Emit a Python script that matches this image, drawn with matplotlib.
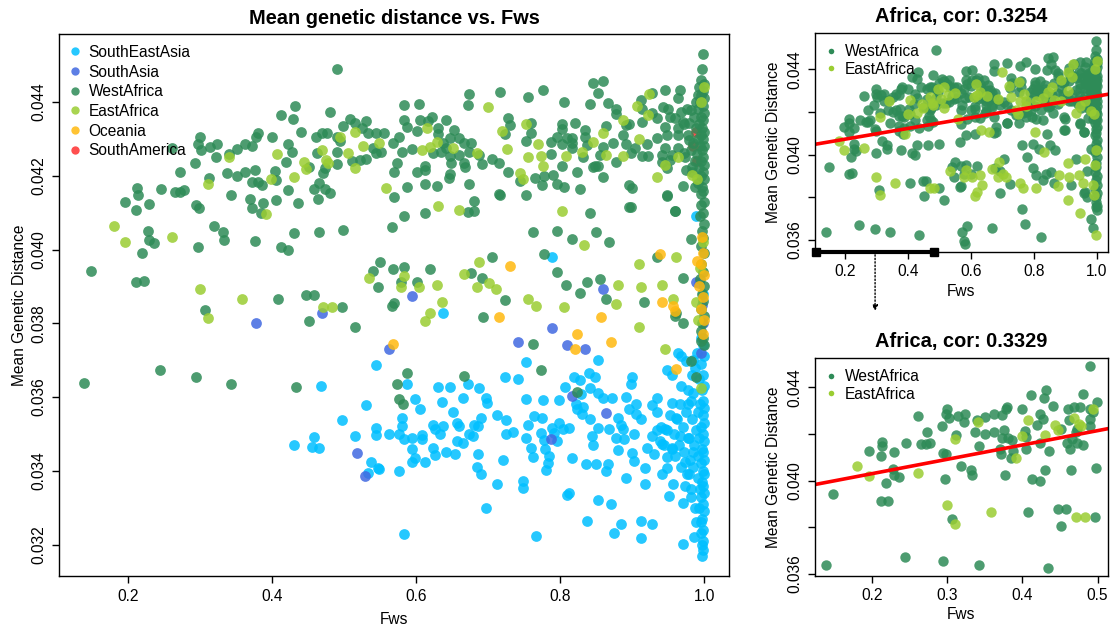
import numpy as np
import matplotlib.pyplot as plt
from matplotlib.lines import Line2D
from matplotlib.ticker import FixedLocator, FixedFormatter

plt.rcParams['font.family'] = ['Liberation Sans', 'DejaVu Sans']

# (Fws, mean genetic distance) per population
west_africa = [
    (0.490, 0.04490), (0.432, 0.04389), (0.412, 0.04365), (0.429, 0.04354), (0.481, 0.04373), (0.441, 0.04318),
    (0.300, 0.04305), (0.298, 0.04286), (0.302, 0.04270), (0.314, 0.04278), (0.324, 0.04286), (0.261, 0.04275),
    (0.293, 0.04234), (0.323, 0.04250), (0.340, 0.04258), (0.351, 0.04272), (0.362, 0.04286), (0.373, 0.04280),
    (0.378, 0.04305), (0.380, 0.04316), (0.400, 0.04305), (0.423, 0.04286), (0.428, 0.04264), (0.419, 0.04237),
    (0.461, 0.04305), (0.469, 0.04316), (0.476, 0.04316), (0.462, 0.04261), (0.490, 0.04305), (0.490, 0.04264),
    (0.499, 0.04335), (0.494, 0.04294), (0.511, 0.04240), (0.522, 0.04242), (0.531, 0.04245), (0.509, 0.04354),
    (0.516, 0.04343), (0.525, 0.04329), (0.530, 0.04348), (0.533, 0.04316), (0.545, 0.04316), (0.540, 0.04275),
    (0.545, 0.04261), (0.490, 0.04232), (0.452, 0.04223), (0.471, 0.04207), (0.473, 0.04220), (0.466, 0.04180),
    (0.459, 0.04163), (0.473, 0.04163), (0.480, 0.04153), (0.464, 0.04136), (0.376, 0.04215), (0.362, 0.04210),
    (0.351, 0.04199), (0.337, 0.04207), (0.373, 0.04183), (0.381, 0.04183), (0.386, 0.04174), (0.404, 0.04213),
    (0.405, 0.04188), (0.423, 0.04161), (0.405, 0.04134), (0.436, 0.04126), (0.388, 0.04126), (0.370, 0.04136),
    (0.372, 0.04112), (0.385, 0.04098), (0.343, 0.04147), (0.312, 0.04194), (0.273, 0.04210), (0.246, 0.04163),
    (0.266, 0.04155), (0.272, 0.04155), (0.278, 0.04161), (0.294, 0.04120), (0.299, 0.04112), (0.213, 0.04166),
    (0.214, 0.04147), (0.196, 0.04128), (0.229, 0.04123), (0.212, 0.04107), (0.319, 0.04063), (0.332, 0.04047),
    (0.333, 0.04025), (0.228, 0.04050), (0.229, 0.04025), (0.236, 0.04017), (0.219, 0.03990), (0.297, 0.04006),
    (0.377, 0.04022), (0.413, 0.04006), (0.423, 0.03998), (0.430, 0.04044), (0.465, 0.04047), (0.498, 0.04052),
    (0.149, 0.03943), (0.212, 0.03911), (0.222, 0.03914), (0.307, 0.03835), (0.408, 0.03865), (0.447, 0.03876),
    (0.458, 0.03876), (0.497, 0.03843), (0.550, 0.03965), (0.540, 0.03941), (0.547, 0.03897),
    (0.452, 0.03805), (0.515, 0.03789), (0.139, 0.03639), (0.244, 0.03672), (0.295, 0.03653), (0.343, 0.03636),
    (0.434, 0.03626),
    (0.570, 0.04210), (0.569, 0.04142), (0.566, 0.04060), (0.568, 0.04289), (0.573, 0.04234), (0.556, 0.04316),
    (0.552, 0.04264), (0.577, 0.04305),
    (0.583, 0.04392), (0.604, 0.04395), (0.674, 0.04422), (0.672, 0.04392), (0.716, 0.04427), (0.756, 0.04414),
    (0.776, 0.04433), (0.805, 0.04400), (0.845, 0.04452), (0.842, 0.04395), (0.583, 0.04351), (0.587, 0.04332),
    (0.605, 0.04351), (0.601, 0.04321), (0.622, 0.04359), (0.617, 0.04348), (0.642, 0.04351), (0.630, 0.04329),
    (0.631, 0.04313), (0.653, 0.04324), (0.647, 0.04302), (0.660, 0.04302), (0.667, 0.04289), (0.676, 0.04289),
    (0.637, 0.04289), (0.642, 0.04275), (0.623, 0.04261), (0.595, 0.04272), (0.581, 0.04264), (0.635, 0.04264),
    (0.647, 0.04253), (0.659, 0.04256), (0.674, 0.04264), (0.687, 0.04256), (0.648, 0.04234), (0.667, 0.04234),
    (0.668, 0.04223), (0.692, 0.04232), (0.706, 0.04245), (0.715, 0.04234), (0.728, 0.04357), (0.730, 0.04337),
    (0.723, 0.04313), (0.759, 0.04343), (0.760, 0.04316), (0.753, 0.04294), (0.803, 0.04340), (0.802, 0.04327),
    (0.821, 0.04343), (0.796, 0.04305), (0.810, 0.04302), (0.817, 0.04302), (0.817, 0.04289), (0.834, 0.04324),
    (0.835, 0.04305), (0.837, 0.04283), (0.817, 0.04275), (0.788, 0.04291), (0.803, 0.04286), (0.788, 0.04258),
    (0.832, 0.04250), (0.845, 0.04223), (0.852, 0.04226), (0.803, 0.04226), (0.823, 0.04210), (0.790, 0.04202),
    (0.778, 0.04199), (0.765, 0.04194), (0.744, 0.04185), (0.775, 0.04174), (0.795, 0.04177), (0.806, 0.04169),
    (0.828, 0.04163), (0.728, 0.04210), (0.601, 0.04210), (0.613, 0.04215), (0.612, 0.04226), (0.647, 0.04204),
    (0.646, 0.04194), (0.612, 0.04177), (0.629, 0.04172), (0.587, 0.04169), (0.673, 0.04177), (0.716, 0.04147),
    (0.753, 0.04147), (0.680, 0.04131), (0.672, 0.04101), (0.680, 0.04104), (0.613, 0.04098), (0.583, 0.04090),
    (0.841, 0.04098),
    (0.860, 0.04457), (0.853, 0.04424), (0.866, 0.04397), (0.877, 0.04381), (0.877, 0.04367), (0.912, 0.04405),
    (0.913, 0.04381), (0.928, 0.04424), (0.946, 0.04433), (0.964, 0.04411), (0.967, 0.04433), (0.943, 0.04386),
    (0.950, 0.04381), (0.928, 0.04370), (0.935, 0.04357), (0.913, 0.04346), (0.896, 0.04340), (0.892, 0.04337),
    (0.864, 0.04335), (0.887, 0.04310), (0.945, 0.04332), (0.952, 0.04359), (0.960, 0.04357), (0.963, 0.04329),
    (0.934, 0.04302), (0.948, 0.04310), (0.921, 0.04286), (0.892, 0.04286), (0.904, 0.04275), (0.899, 0.04261),
    (0.913, 0.04253), (0.922, 0.04253), (0.873, 0.04289), (0.859, 0.04278), (0.855, 0.04256), (0.877, 0.04237),
    (0.849, 0.04226), (0.941, 0.04256), (0.945, 0.04275), (0.955, 0.04256), (0.941, 0.04237), (0.952, 0.04242),
    (0.949, 0.04220), (0.964, 0.04275), (0.972, 0.04261), (0.975, 0.04215), (0.860, 0.04196), (0.896, 0.04174),
    (0.900, 0.04166), (0.948, 0.04147), (0.971, 0.04172), (0.896, 0.04115), (0.960, 0.04104), (0.982, 0.04378),
    (0.979, 0.04343), (0.979, 0.04297), (0.983, 0.04223), (0.987, 0.04169), (0.968, 0.04373), (0.970, 0.04346),
    (0.964, 0.04310),
    (0.715, 0.04150), (0.762, 0.04047), (0.796, 0.04050), (0.816, 0.04028), (0.850, 0.04047), (0.868, 0.04020),
    (0.898, 0.04115), (0.948, 0.04145), (0.959, 0.04104), (0.970, 0.03924), (0.982, 0.04028), (0.934, 0.03981),
    (0.777, 0.03987), (0.796, 0.03938), (0.808, 0.03905), (0.837, 0.03911), (0.855, 0.03919), (0.864, 0.03867),
    (0.828, 0.03881), (0.917, 0.03859), (0.961, 0.03827), (0.706, 0.03981), (0.692, 0.03922), (0.724, 0.03862),
    (0.693, 0.03818), (0.619, 0.03946), (0.601, 0.03911), (0.579, 0.03911), (0.568, 0.03946), (0.584, 0.03952),
    (0.570, 0.03855), (0.566, 0.03848), (0.677, 0.03936),
    (0.762, 0.03745), (0.773, 0.03674), (0.666, 0.03658), (0.587, 0.03666), (0.573, 0.03636), (0.577, 0.03595),
    (0.582, 0.03582), (0.824, 0.03614), (0.981, 0.03699), (0.989, 0.03655), (0.970, 0.03800), (0.960, 0.03821),
    (0.996, 0.03753),
    (0.998, 0.0453), (0.997, 0.0449), (0.995, 0.0446), (1.000, 0.0445), (0.993, 0.0444), (0.999, 0.0443),
    (0.996, 0.0442), (0.991, 0.0442), (1.000, 0.0441), (0.994, 0.0440), (0.988, 0.0440), (0.998, 0.0439),
    (0.992, 0.0438), (1.000, 0.0437), (0.996, 0.0436), (0.986, 0.0436), (0.999, 0.0435), (0.993, 0.0434),
    (0.997, 0.0433), (0.989, 0.0433), (1.000, 0.0432), (0.995, 0.0431), (0.991, 0.0430), (0.998, 0.0430),
    (0.984, 0.0429), (1.000, 0.0428), (0.994, 0.0428), (0.997, 0.0427), (0.990, 0.0426), (0.999, 0.0425),
    (0.995, 0.0424), (0.987, 0.0424), (1.000, 0.0423), (0.993, 0.0422), (0.998, 0.0421), (0.996, 0.0420),
    (1.000, 0.0419), (0.992, 0.0418), (0.997, 0.0417), (0.999, 0.0416), (0.995, 0.0415), (1.000, 0.0413),
    (0.996, 0.0412), (0.998, 0.0410), (0.994, 0.0409), (1.000, 0.0407), (0.997, 0.0405), (0.999, 0.0403),
    (0.995, 0.0401), (1.000, 0.0399), (0.996, 0.0396), (0.998, 0.0394), (0.994, 0.0392), (1.000, 0.0390),
    (0.997, 0.0388), (0.999, 0.0386), (0.995, 0.0384), (1.000, 0.0382), (0.997, 0.0380), (0.996, 0.0378),
    (0.999, 0.0376), (1.000, 0.0374), (0.976, 0.0438), (0.972, 0.0434), (0.978, 0.0431), (0.981, 0.0427),
    (0.974, 0.0425), (0.983, 0.0421),
]

east_africa = [
    (0.181, 0.04063), (0.196, 0.04020), (0.261, 0.04033), (0.311, 0.04177), (0.407, 0.04258), (0.430, 0.04196),
    (0.399, 0.04191), (0.392, 0.04096), (0.444, 0.04237), (0.448, 0.04218), (0.469, 0.04270), (0.475, 0.04242),
    (0.478, 0.04234), (0.494, 0.04305), (0.505, 0.04261), (0.516, 0.04220), (0.515, 0.04318), (0.526, 0.04280),
    (0.300, 0.03894), (0.359, 0.03865), (0.535, 0.03924), (0.471, 0.03843), (0.483, 0.03843), (0.311, 0.03813),
    (0.341, 0.04250), (0.548, 0.04289), (0.559, 0.04166),
    (0.700, 0.04386), (0.615, 0.04329), (0.629, 0.04291), (0.619, 0.04278), (0.609, 0.04270), (0.651, 0.04275),
    (0.685, 0.04261), (0.720, 0.04321), (0.752, 0.04340), (0.726, 0.04272), (0.769, 0.04286), (0.755, 0.04250),
    (0.774, 0.04253), (0.776, 0.04226), (0.744, 0.04207), (0.749, 0.04191), (0.808, 0.04253), (0.830, 0.04264),
    (0.845, 0.04291), (0.631, 0.04117), (0.659, 0.04107), (0.802, 0.04104),
    (0.887, 0.04351), (0.859, 0.04316), (0.910, 0.04299), (0.887, 0.04253), (0.935, 0.04196), (0.964, 0.04250),
    (0.983, 0.04202), (0.924, 0.04422), (0.907, 0.04389), (0.922, 0.04365), (0.864, 0.04256), (0.945, 0.04229),
    (1.000, 0.04440),
    (0.833, 0.04011), (0.688, 0.03965), (0.667, 0.03933), (0.685, 0.03897), (0.701, 0.03908), (0.711, 0.03894),
    (0.629, 0.03903), (0.579, 0.03897), (0.636, 0.03859), (0.620, 0.03827), (0.755, 0.03867), (0.767, 0.03846),
    (0.806, 0.03843), (0.880, 0.03905), (0.878, 0.03851), (0.909, 0.03962), (0.912, 0.03897), (0.942, 0.03903),
    (0.961, 0.03979), (0.956, 0.03867), (0.910, 0.03789), (0.946, 0.03729), (0.584, 0.03927), (0.604, 0.03897),
    (0.612, 0.03805),
    (0.995, 0.04400), (0.990, 0.04190), (0.989, 0.03857), (0.994, 0.03950), (0.996, 0.03624), (0.992, 0.03810),
    (0.998, 0.04020),
]

south_east_asia = [
    (0.468, 0.03630), (0.430, 0.03471), (0.456, 0.03465), (0.465, 0.03463), (0.458, 0.03492), (0.497, 0.03539),
    (0.515, 0.03495), (0.531, 0.03577), (0.545, 0.03688), (0.545, 0.03517), (0.545, 0.03498), (0.538, 0.03424),
    (0.533, 0.03395), (0.547, 0.03408), (0.789, 0.03979), (0.637, 0.03829), (0.989, 0.04090), (0.999, 0.03880),
    (0.548, 0.03405), (0.577, 0.03400), (0.562, 0.03501), (0.576, 0.03501), (0.580, 0.03522), (0.581, 0.03544),
    (0.584, 0.03487), (0.588, 0.03636), (0.598, 0.03595), (0.606, 0.03568), (0.595, 0.03490), (0.608, 0.03498),
    (0.609, 0.03487), (0.595, 0.03460), (0.599, 0.03435), (0.595, 0.03424), (0.612, 0.03424), (0.630, 0.03628),
    (0.647, 0.03628), (0.636, 0.03587), (0.623, 0.03525), (0.637, 0.03522), (0.626, 0.03514), (0.633, 0.03501),
    (0.623, 0.03462), (0.626, 0.03443), (0.642, 0.03452), (0.654, 0.03446), (0.652, 0.03560), (0.657, 0.03530),
    (0.660, 0.03522), (0.657, 0.03482), (0.665, 0.03476), (0.665, 0.03598), (0.672, 0.03636), (0.674, 0.03501),
    (0.680, 0.03525), (0.686, 0.03522), (0.688, 0.03625), (0.697, 0.03598), (0.698, 0.03585), (0.690, 0.03544),
    (0.679, 0.03495), (0.686, 0.03446), (0.684, 0.03411), (0.690, 0.03392), (0.697, 0.03300), (0.713, 0.03365),
    (0.721, 0.03430), (0.713, 0.03552), (0.725, 0.03539), (0.723, 0.03653), (0.725, 0.03501), (0.735, 0.03506),
    (0.742, 0.03650), (0.748, 0.03373), (0.748, 0.03354), (0.752, 0.03696), (0.753, 0.03595), (0.755, 0.03525),
    (0.752, 0.03490), (0.760, 0.03462), (0.763, 0.03438), (0.764, 0.03549), (0.775, 0.03544), (0.766, 0.03223),
    (0.584, 0.03229), (0.776, 0.03593), (0.773, 0.03503), (0.778, 0.03484), (0.779, 0.03460), (0.785, 0.03441),
    (0.783, 0.03422), (0.781, 0.03403), (0.789, 0.03517), (0.792, 0.03503), (0.798, 0.03530), (0.796, 0.03482),
    (0.804, 0.03514), (0.798, 0.03593), (0.807, 0.03628), (0.812, 0.03517), (0.813, 0.03340), (0.810, 0.03335),
    (0.816, 0.03435), (0.819, 0.03655), (0.823, 0.03568), (0.822, 0.03582), (0.829, 0.03609), (0.830, 0.03555),
    (0.832, 0.03574), (0.836, 0.03419), (0.840, 0.03664), (0.841, 0.03625), (0.842, 0.03541), (0.844, 0.03495),
    (0.845, 0.03471), (0.848, 0.03655), (0.853, 0.03612), (0.852, 0.03517), (0.850, 0.03419), (0.853, 0.03321),
    (0.837, 0.03264), (0.859, 0.03596), (0.863, 0.03400), (0.867, 0.03419), (0.868, 0.03514), (0.871, 0.03310),
    (0.872, 0.03596), (0.875, 0.03231), (0.878, 0.03490), (0.880, 0.03544), (0.881, 0.03457), (0.885, 0.03256),
    (0.885, 0.03525), (0.887, 0.03514), (0.889, 0.03487), (0.891, 0.03381), (0.892, 0.03601), (0.896, 0.03568),
    (0.899, 0.03636), (0.900, 0.03655), (0.903, 0.03501), (0.900, 0.03449), (0.903, 0.03427), (0.905, 0.03582),
    (0.906, 0.03555), (0.912, 0.03541), (0.912, 0.03264), (0.912, 0.03218), (0.918, 0.03365), (0.918, 0.03408),
    (0.921, 0.03462), (0.927, 0.03256), (0.928, 0.03495), (0.928, 0.03577), (0.931, 0.03446), (0.934, 0.03598),
    (0.935, 0.03560), (0.938, 0.03482), (0.942, 0.03473), (0.942, 0.03392), (0.945, 0.03514), (0.948, 0.03438),
    (0.949, 0.03672), (0.949, 0.03408), (0.951, 0.03332), (0.955, 0.03585), (0.955, 0.03462), (0.957, 0.03365),
    (0.961, 0.03544), (0.963, 0.03720), (0.967, 0.03495), (0.968, 0.03631), (0.970, 0.03202), (0.971, 0.03313),
    (0.973, 0.03424), (0.975, 0.03699), (0.977, 0.03582), (0.979, 0.03392), (0.979, 0.03490), (0.982, 0.03351),
    (0.853, 0.03700), (0.827, 0.03645), (0.968, 0.03712), (0.955, 0.03660),
    (0.995, 0.0376), (0.999, 0.0374), (0.990, 0.0372), (1.000, 0.0371), (0.996, 0.0369), (0.987, 0.0368),
    (0.999, 0.0366), (0.993, 0.0365), (1.000, 0.0363), (0.997, 0.0362), (0.985, 0.0361), (0.999, 0.0359),
    (0.994, 0.0358), (1.000, 0.0357), (0.991, 0.0356), (0.998, 0.0355), (0.983, 0.0354), (1.000, 0.0353),
    (0.995, 0.0352), (0.989, 0.0351), (0.999, 0.0350), (0.993, 0.0349), (1.000, 0.0348), (0.986, 0.0347),
    (0.997, 0.0346), (0.999, 0.0345), (0.992, 0.0344), (1.000, 0.0343), (0.995, 0.0342), (0.984, 0.0341),
    (0.998, 0.0340), (1.000, 0.0339), (0.991, 0.0338), (0.997, 0.0337), (0.999, 0.0336), (0.994, 0.0335),
    (1.000, 0.0334), (0.996, 0.0333), (0.998, 0.0331), (0.993, 0.0330), (1.000, 0.0329), (0.997, 0.0327),
    (0.995, 0.0326), (0.999, 0.0324), (0.996, 0.0323), (0.998, 0.0321), (0.997, 0.0320), (0.999, 0.03185),
    (0.997, 0.03169),
    (0.975, 0.0356), (0.970, 0.0352), (0.978, 0.0349), (0.965, 0.0347), (0.972, 0.0345), (0.980, 0.0343),
    (0.968, 0.0341), (0.976, 0.0339), (0.962, 0.0354), (0.958, 0.0350), (0.982, 0.0359), (0.985, 0.0345),
    (0.973, 0.0336), (0.981, 0.0333), (0.960, 0.0344), (0.952, 0.0355), (0.955, 0.0346), (0.948, 0.0351),
    (0.966, 0.0358), (0.978, 0.0362), (0.983, 0.0366), (0.985, 0.0370), (0.940, 0.0352), (0.944, 0.0347),
    (0.935, 0.0351), (0.987, 0.0330), (0.988, 0.0326), (0.986, 0.0322),
]

south_asia = [
    (0.469, 0.03829), (0.378, 0.03800), (0.518, 0.03449), (0.529, 0.03386), (0.562, 0.03730), (0.595, 0.03873),
    (0.859, 0.03892), (0.789, 0.03786), (0.742, 0.03750), (0.809, 0.03740), (0.834, 0.03731), (0.817, 0.03603),
    (0.864, 0.03557), (0.788, 0.03487), (0.989, 0.03911), (0.997, 0.03850), (0.995, 0.03720), (0.999, 0.03800),
    (0.993, 0.03910),
]

oceania = [
    (0.731, 0.03955), (0.938, 0.03987), (0.941, 0.03859), (0.956, 0.03848), (0.857, 0.03818), (0.715, 0.03818),
    (0.823, 0.03770), (0.820, 0.03729), (0.870, 0.03748), (0.959, 0.03832), (0.568, 0.03745), (0.961, 0.03677),
    (0.997, 0.04033), (0.999, 0.03990), (0.995, 0.03960), (1.000, 0.03930), (0.993, 0.03900), (0.999, 0.03870),
    (0.996, 0.03840), (1.000, 0.03810), (0.998, 0.03772), (0.990, 0.03970),
]

south_america = [(0.985, 0.04280), (0.990, 0.04240), (0.988, 0.04320)]

# regression lines (intercept, slope) and subset window shown in the figure
fit_all = (0.04022, 0.002516)
fit_sub = (0.03906, 0.00616)
subset_max = 0.5
window = (0.108, 0.483)

cols = {
    'SouthEastAsia': '#00BFFF', 'SouthAsia': '#4169E1', 'WestAfrica': '#2E8B57',
    'EastAfrica': '#9ACD32', 'Oceania': '#FFB90F', 'SouthAmerica': '#FF3030',
}
ALPHA = 0.85
FS = 11.2


def arr(pts):
    return np.array(pts).T


def r_lim(v):
    lo, hi = v.min(), v.max()
    pad = 0.04 * (hi - lo)
    return lo - pad, hi + pad


def style(ax):
    for s in ax.spines.values():
        s.set_linewidth(1.0)
    ax.tick_params(direction='out', length=5, width=1, labelsize=FS, pad=4)
    ax.tick_params(axis='y', labelrotation=90)
    for lab in ax.get_yticklabels():
        lab.set_va('center')


groups = {
    'SouthAmerica': arr(south_america), 'SouthEastAsia': arr(south_east_asia),
    'SouthAsia': arr(south_asia), 'WestAfrica': arr(west_africa),
    'EastAfrica': arr(east_africa), 'Oceania': arr(oceania),
}

fig = plt.figure(figsize=(11.12, 6.3), dpi=100)

# ---- main panel
ax = fig.add_axes([0.0531, 0.0857, 0.6025, 0.8603])
for name, (x, y) in groups.items():
    ax.scatter(x, y, s=60, color=cols[name], alpha=ALPHA, linewidths=0)
all_x = np.concatenate([g[0] for g in groups.values()])
all_y = np.concatenate([g[1] for g in groups.values()])
ax.set_xlim(*r_lim(all_x))
ax.set_ylim(*r_lim(all_y))
ax.set_xticks([0.2, 0.4, 0.6, 0.8, 1.0])
ax.set_xticklabels(['0.2', '0.4', '0.6', '0.8', '1.0'])
ax.set_yticks(np.arange(0.032, 0.0441, 0.002))
ax.set_yticklabels(['%.3f' % v for v in np.arange(0.032, 0.0441, 0.002)])
style(ax)
ax.set_xlabel('Fws', fontsize=FS, labelpad=6)
ax.set_ylabel('Mean Genetic Distance', fontsize=FS, labelpad=3)
ax.set_title('Mean genetic distance vs. Fws', fontsize=14.4, fontweight='bold', pad=7)
order = ['SouthEastAsia', 'SouthAsia', 'WestAfrica', 'EastAfrica', 'Oceania', 'SouthAmerica']
handles = [Line2D([], [], ls='', marker='o', ms=6, mew=0, color=cols[n], alpha=ALPHA) for n in order]
ax.legend(handles, order, loc='upper left', frameon=False, fontsize=FS, handlelength=0.6,
          handletextpad=0.6, labelspacing=0.3, borderaxespad=0.3, borderpad=0.4)

# ---- Africa panels
wa = groups['WestAfrica']
ea = groups['EastAfrica']
af_x = np.concatenate([wa[0], ea[0]])
af_y = np.concatenate([wa[1], ea[1]])


def africa_panel(rect, keep, title, fit, xticks, xlabels):
    a = fig.add_axes(rect)
    for name, (x, y) in (('WestAfrica', wa), ('EastAfrica', ea)):
        m = keep(x)
        a.scatter(x[m], y[m], s=56, color=cols[name], alpha=ALPHA, linewidths=0)
    m = keep(af_x)
    a.set_xlim(*r_lim(af_x[m]))
    a.set_ylim(*r_lim(af_y[m]))
    a.axline((0, fit[0]), slope=fit[1], color='red', lw=2.6)
    a.set_xticks(xticks)
    a.set_xticklabels(xlabels)
    yt = [0.036, 0.038, 0.040, 0.042, 0.044]
    a.yaxis.set_major_locator(FixedLocator(yt))
    a.yaxis.set_major_formatter(FixedFormatter(['0.036', '', '0.040', '', '0.044']))
    style(a)
    a.set_xlabel('Fws', fontsize=FS, labelpad=3)
    a.set_ylabel('Mean Genetic Distance', fontsize=FS, labelpad=5)
    a.set_title(title, fontsize=14.4, fontweight='bold', pad=8)
    h = [Line2D([], [], ls='', marker='o', ms=4, mew=0, color=cols[n]) for n in ('WestAfrica', 'EastAfrica')]
    a.legend(h, ['WestAfrica', 'EastAfrica'], loc='upper left', frameon=False, fontsize=FS,
             handlelength=0.6, handletextpad=0.6, labelspacing=0.15, borderaxespad=0.3, borderpad=0.4)
    return a


ax_tr = africa_panel([0.7329, 0.6, 0.2632, 0.3471], lambda x: x > -1, 'Africa, cor: 0.3254', fit_all,
                     [0.2, 0.4, 0.6, 0.8, 1.0], ['0.2', '0.4', '0.6', '0.8', '1.0'])
ax_br = africa_panel([0.7329, 0.0862, 0.2632, 0.3451], lambda x: x <= subset_max, 'Africa, cor: 0.3329', fit_sub,
                     [0.2, 0.3, 0.4, 0.5], ['0.2', '0.3', '0.4', '0.5'])

# window marker and arrow between the two Africa panels
y0 = ax_tr.get_ylim()[0]
ax_tr.plot(window, [y0, y0], color='black', lw=3, marker='s', ms=6, clip_on=False,
           solid_capstyle='butt', zorder=5)
mid = (window[0] + window[1]) / 2
ax_tr.annotate('', xy=(mid, 1 - 311 / 630), xycoords=('data', 'figure fraction'),
               xytext=(mid, y0), textcoords='data',
               arrowprops=dict(arrowstyle='-|>', linestyle=(0, (1, 1.5)), lw=1, color='black',
                               shrinkA=2, shrinkB=0, mutation_scale=8))

fig.savefig('out.png', dpi=100)
